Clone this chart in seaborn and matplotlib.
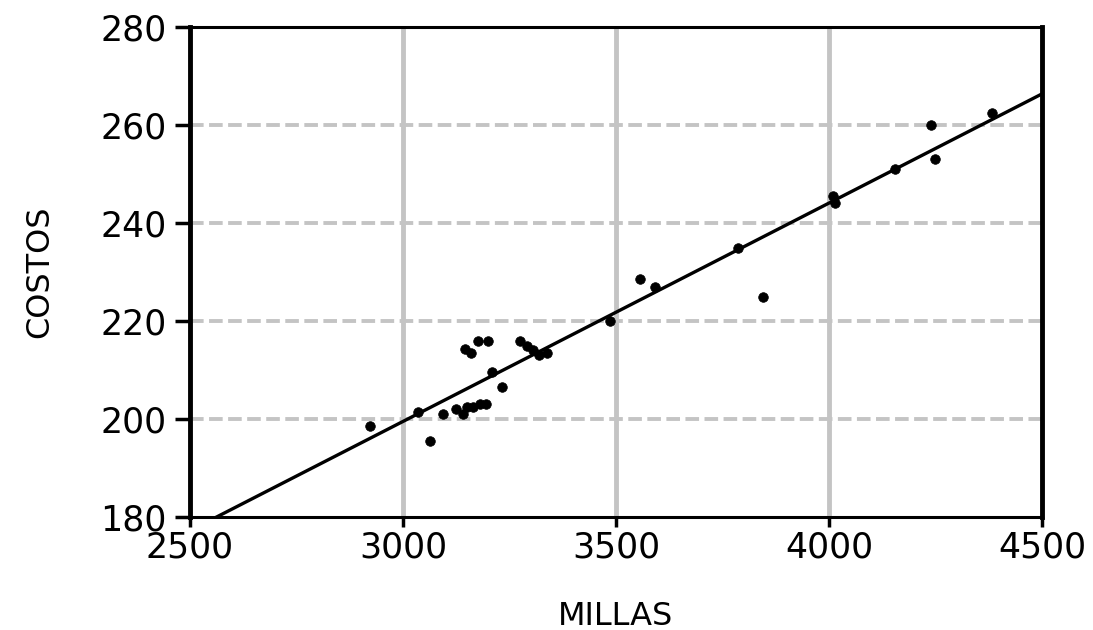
import matplotlib
matplotlib.use("Agg")
import matplotlib.pyplot as plt
import seaborn as sns
import pandas as pd

millas = [2922, 3035, 3063, 3094, 3125, 3140, 3150, 3165, 3180, 3195,
          3145, 3160, 3176, 3199, 3209, 3232, 3275, 3290, 3305, 3320,
          3338, 3486, 3556, 3591, 3786, 3845, 4009, 4014, 4155, 4239,
          4248, 4382]
costos = [198.5, 201.5, 195.5, 201.0, 202.0, 201.0, 202.5, 202.5, 203.0, 203.0,
          214.3, 213.5, 216.0, 216.0, 209.5, 206.5, 216.0, 215.0, 214.0, 213.0,
          213.5, 220.0, 228.5, 227.0, 235.0, 225.0, 245.5, 244.0, 251.0, 260.0,
          253.0, 262.5]
x_ticks = [2500, 3000, 3500, 4000, 4500]
y_ticks = [180, 200, 220, 240, 260, 280]

df = pd.DataFrame({"MILLAS": millas, "COSTOS": costos})

sns.set_style("white")
plt.rcParams["font.family"] = ["DejaVu Sans"]
plt.rcParams["text.color"] = "black"
plt.rcParams["axes.labelcolor"] = "black"

fig = plt.figure(figsize=(10.93, 6.30), dpi=100)
ax = fig.add_axes([0.1738, 0.1794, 0.9533 - 0.1738, 0.957 - 0.1794])
ax.set_xlim(2500, 4500)
ax.set_ylim(180, 280)

# grid
for xv in x_ticks[1:-1]:
    ax.axvline(xv, color="#c4c4c4", lw=3.5, zorder=0)
for yv in y_ticks[1:-1]:
    ax.axhline(yv, color="#c4c4c4", lw=2.8, ls=(0, (3.5, 1.4)), zorder=0)

sns.regplot(data=df, x="MILLAS", y="COSTOS", ax=ax, ci=None, truncate=False,
            scatter_kws=dict(s=48, color="black", edgecolor="black", linewidths=0.5,
                             alpha=1, zorder=3),
            line_kws=dict(color="black", lw=2.4, zorder=4))

ax.set_xticks(x_ticks)
ax.set_yticks(y_ticks)
ax.set_xlim(2500, 4500)
ax.set_ylim(180, 280)

for side in ["left", "right"]:
    ax.spines[side].set_linewidth(3.5)
    ax.spines[side].set_color("black")
for side in ["top", "bottom"]:
    ax.spines[side].set_linewidth(2.2)
    ax.spines[side].set_color("black")

ax.tick_params(axis="x", direction="out", length=7, width=2.5, labelsize=25,
               pad=3, bottom=True, colors="black")
ax.tick_params(axis="y", direction="out", length=11, width=2.5, labelsize=25,
               pad=6, left=True, colors="black")

ax.set_xlabel("MILLAS", fontsize=23, labelpad=26, color="black")
ax.set_ylabel("COSTOS", fontsize=23, labelpad=32, color="black")

fig.savefig("out.png", dpi=100)
